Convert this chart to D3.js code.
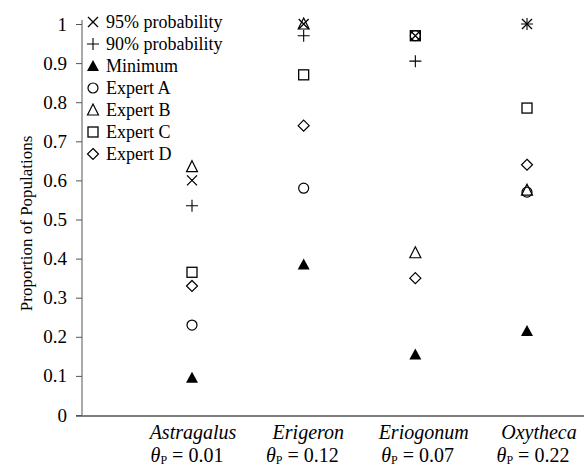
<!DOCTYPE html>
<html>
<head>
<meta charset="utf-8">
<script src="https://cdn.jsdelivr.net/npm/d3@7"></script>
</head>
<body style="margin:0">
<div id="chart"></div>
<script>
// categories and values
var categories = ["Astragalus", "Erigeron", "Eriogonum", "Oxytheca"];
var thetaLabels = ["0.01", "0.12", "0.07", "0.22"];
var yTicks = [0, 0.1, 0.2, 0.3, 0.4, 0.5, 0.6, 0.7, 0.8, 0.9, 1];

var p95 = [0.60, 1.00, 0.97, 1.00];
var p90 = [0.535, 0.97, 0.905, 1.00];
var minimum = [0.095, 0.385, 0.155, 0.215];
var expertA = [0.23, 0.58, 0.97, 0.57];
var expertB = [0.635, 1.00, 0.415, 0.575];
var expertC = [0.365, 0.87, 0.97, 0.785];
var expertD = [0.33, 0.74, 0.35, 0.64];

var seriesNames = ["95% probability", "90% probability", "Minimum", "Expert A", "Expert B", "Expert C", "Expert D"];
var seriesShapes = ["cross", "plus", "triFill", "circle", "tri", "square", "diamond"];
var seriesValues = [p95, p90, minimum, expertA, expertB, expertC, expertD];

var serifFont = "'Liberation Serif', 'Times New Roman'";

(function () {
  'use strict'

  var W = 584, H = 467;
  var svg = d3.select("#chart").append("svg")
      .attr("width", W).attr("height", H);

  var x = d3.scalePoint().domain(categories).range([192, 527]);
  var xLab = d3.scalePoint().domain(categories).range([193, 539]);
  var y = d3.scaleLinear().domain([0, 1]).range([415, 24]);

  // y axis
  var yAxis = svg.append("g")
      .attr("class", "yAxis")
      .attr("transform", "translate(82,0)")
      .call(d3.axisLeft(y).tickValues(yTicks).tickSize(6).tickPadding(9)
        .tickFormat(function (d) { return d === 0 || d === 1 ? d3.format("d")(d) : d3.format(".1f")(d); }));
  yAxis.attr("font-family", null).attr("font-size", null);
  yAxis.select(".domain").remove();
  yAxis.selectAll(".tick line").attr("stroke", "#555");
  yAxis.selectAll(".tick text")
      .style("font-family", serifFont)
      .attr("font-size", 19)
      .attr("fill", "#000");

  svg.append("line")
      .attr("x1", 82).attr("x2", 82)
      .attr("y1", y(1) - 4).attr("y2", y(0))
      .attr("stroke", "#555").attr("stroke-width", 1);

  svg.append("line")
      .attr("x1", 76).attr("x2", W)
      .attr("y1", y(0) + 1).attr("y2", y(0) + 1)
      .attr("stroke", "#555").attr("stroke-width", 1.5);

  // y label
  svg.append("text")
      .style("font-family", serifFont)
      .attr("font-size", 17)
      .attr("transform", "translate(32," + y(0.49) + ") rotate(-90)")
      .attr("text-anchor", "middle")
      .text("Proportion of Populations");

  // x labels
  var xl = svg.append("g").attr("class", "xLabels");
  categories.forEach(function (c, i) {
    xl.append("text")
        .style("font-family", serifFont)
        .attr("font-size", 20)
        .attr("x", xLab(c)).attr("y", 439)
        .attr("text-anchor", "middle")
        .attr("font-style", "italic")
        .text(c);
    var t = xl.append("text")
        .style("font-family", serifFont)
        .attr("font-size", 20)
        .attr("x", xLab(c) - 6).attr("y", 462)
        .attr("text-anchor", "middle");
    t.append("tspan").attr("font-style", "italic").text("\u03b8");
    t.append("tspan").attr("font-size", 12).attr("dy", 2).text("P");
    t.append("tspan").attr("dy", -2).text(" = " + thetaLabels[i]);
  });

  function drawShape(g, shape, cx, cy) {
    var s = 5;
    switch (shape) {
      case "cross":
        g.append("path").attr("d", "M" + (cx - s) + "," + (cy - s) + "L" + (cx + s) + "," + (cy + s) +
            "M" + (cx - s) + "," + (cy + s) + "L" + (cx + s) + "," + (cy - s))
          .attr("stroke", "#000").attr("stroke-width", 1.3).attr("fill", "none");
        break;
      case "plus":
        g.append("path").attr("d", "M" + (cx - 6) + "," + cy + "L" + (cx + 6) + "," + cy +
            "M" + cx + "," + (cy - 6) + "L" + cx + "," + (cy + 6))
          .attr("stroke", "#000").attr("stroke-width", 1.1).attr("fill", "none");
        break;
      case "triFill":
        g.append("path").attr("d", "M" + cx + "," + (cy - 6) + "L" + (cx + 6) + "," + (cy + 5) + "L" + (cx - 6) + "," + (cy + 5) + "Z")
          .attr("fill", "#000");
        break;
      case "tri":
        g.append("path").attr("d", "M" + cx + "," + (cy - 6) + "L" + (cx + 5.5) + "," + (cy + 5) + "L" + (cx - 5.5) + "," + (cy + 5) + "Z")
          .attr("fill", "none").attr("stroke", "#000").attr("stroke-width", 1.2);
        break;
      case "circle":
        g.append("circle").attr("cx", cx).attr("cy", cy).attr("r", 5)
          .attr("fill", "none").attr("stroke", "#000").attr("stroke-width", 1.2);
        break;
      case "square":
        g.append("rect").attr("x", cx - 5).attr("y", cy - 5).attr("width", 10).attr("height", 10)
          .attr("fill", "none").attr("stroke", "#000").attr("stroke-width", 1.3);
        break;
      case "diamond":
        g.append("path").attr("d", "M" + cx + "," + (cy - 5.5) + "L" + (cx + 5.5) + "," + cy + "L" + cx + "," + (cy + 5.5) + "L" + (cx - 5.5) + "," + cy + "Z")
          .attr("fill", "none").attr("stroke", "#000").attr("stroke-width", 1.2);
        break;
    }
  }

  // points
  var pts = svg.append("g").attr("class", "points");
  seriesValues.forEach(function (vals, si) {
    vals.forEach(function (v, ci) {
      drawShape(pts, seriesShapes[si], x(categories[ci]), y(v));
    });
  });

  // legend
  var leg = svg.append("g").attr("class", "legend");
  seriesNames.forEach(function (nm, i) {
    var cy = 22 + i * 22;
    drawShape(leg, seriesShapes[i], 93, cy);
    leg.append("text")
        .style("font-family", serifFont)
        .attr("font-size", 18)
        .attr("x", 106).attr("y", cy + 6)
        .text(nm);
  });
})()
</script>
</body>
</html>
